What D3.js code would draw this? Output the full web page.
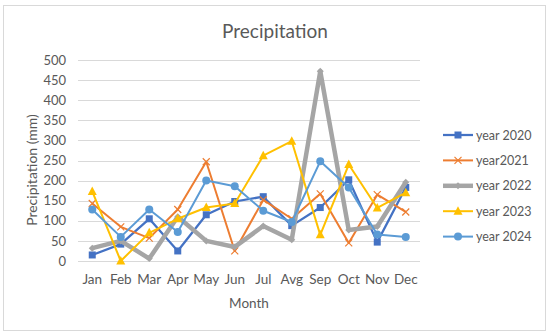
<!DOCTYPE html>
<html>
<head>
<meta charset="utf-8">
<script src="https://d3js.org/d3.v7.min.js"></script>
<style>
  body { margin: 0; background: #fff; }
  text { font-family: Lato, "Open Sans", sans-serif; fill: #595959; }
</style>
</head>
<body>
<svg id="chart"></svg>
<script>
// Chart data
const months = ['Jan', 'Feb', 'Mar', 'Apr', 'May', 'Jun', 'Jul', 'Avg', 'Sep', 'Oct', 'Nov', 'Dec'];
const yTicks = [0, 50, 100, 150, 200, 250, 300, 350, 400, 450, 500];
const seriesNames = ['year 2020', 'year2021', 'year 2022', 'year 2023', 'year 2024'];
const year2020 = [15, 42, 105, 25, 115, 148, 160, 88, 133, 202, 47, 183];
const year2021 = [143, 85, 57, 128, 247, 25, 152, 105, 167, 45, 165, 122];
const year2022 = [32, 50, 6, 110, 50, 35, 87, 53, 472, 77, 86, 196];
const year2023 = [173, 0, 70, 105, 133, 143, 262, 298, 65, 240, 132, 170];
const year2024 = [128, 60, 128, 72, 200, 186, 125, 97, 248, 183, 66, 60];

const width = 550, height = 333;
const margin = {top: 60, right: 130, bottom: 72, left: 78};

const styles = [
  {color: '#4472C4', width: 2.25, marker: 'square'},
  {color: '#ED7D31', width: 2, marker: 'x'},
  {color: '#A5A5A5', width: 4.5, marker: 'diamond'},
  {color: '#FFC000', width: 2, marker: 'triangle'},
  {color: '#5B9BD5', width: 2, marker: 'circle'}
];
const allSeries = [year2020, year2021, year2022, year2023, year2024];

const svg = d3.select('#chart')
    .attr('width', width)
    .attr('height', height);

// outer frame
svg.append('rect')
    .attr('x', 3.5).attr('y', 5.5)
    .attr('width', 542).attr('height', 325)
    .attr('fill', '#fff')
    .attr('stroke', '#d9d9d9');

const innerW = width - margin.left - margin.right;
const innerH = height - margin.top - margin.bottom;

const xScale = d3.scaleBand().domain(months).range([0, innerW]);
const yScale = d3.scaleLinear().domain([0, 500]).range([innerH, 0]);

const chart = svg.append('g')
    .attr('transform', `translate(${margin.left},${margin.top})`);

// gridlines
chart.append('g')
    .selectAll('line')
    .data(yTicks)
  .join('line')
    .attr('x1', 0).attr('x2', innerW)
    .attr('y1', d => Math.round(yScale(d)) + 0.5)
    .attr('y2', d => Math.round(yScale(d)) + 0.5)
    .attr('stroke', '#d9d9d9')
    .attr('stroke-width', 1);

// y axis labels
const yAxis = d3.axisLeft(yScale).tickValues(yTicks).tickSize(0).tickPadding(12);
chart.append('g').call(yAxis)
    .call(g => g.select('.domain').remove())
    .selectAll('text')
    .style('font-size', '13px')
    .attr('fill', '#595959');

// x axis labels
const xAxis = d3.axisBottom(xScale).tickSize(0).tickPadding(13);
chart.append('g')
    .attr('transform', `translate(0,${innerH})`)
    .call(xAxis)
    .call(g => g.select('.domain').remove())
    .selectAll('text')
    .style('font-size', '13.5px')
    .attr('fill', '#595959');

const xPos = m => xScale(m) + xScale.bandwidth() / 2;

function drawMarker(g, type, color, x, y) {
  if (type === 'square') {
    g.append('rect').attr('x', x - 3.5).attr('y', y - 3.5)
        .attr('width', 7).attr('height', 7).attr('fill', color);
  } else if (type === 'x') {
    g.append('path')
        .attr('d', `M${x - 3.5},${y - 3.5}L${x + 3.5},${y + 3.5}M${x - 3.5},${y + 3.5}L${x + 3.5},${y - 3.5}`)
        .attr('stroke', color).attr('stroke-width', 1.2);
  } else if (type === 'diamond') {
    g.append('path')
        .attr('d', `M${x},${y - 3.5}L${x + 3.5},${y}L${x},${y + 3.5}L${x - 3.5},${y}Z`)
        .attr('fill', color);
  } else if (type === 'triangle') {
    g.append('path')
        .attr('d', `M${x},${y - 5}L${x + 4.5},${y + 3.5}L${x - 4.5},${y + 3.5}Z`)
        .attr('fill', color);
  } else {
    g.append('circle').attr('cx', x).attr('cy', y).attr('r', 4).attr('fill', color);
  }
}

const line = d3.line()
    .x((d, i) => xPos(months[i]))
    .y(d => yScale(d));

allSeries.forEach((values, si) => {
  const s = styles[si];
  const g = chart.append('g');
  g.append('path')
      .datum(values)
      .attr('d', line)
      .attr('fill', 'none')
      .attr('stroke', s.color)
      .attr('stroke-width', s.width)
      .attr('stroke-linejoin', 'round');
  values.forEach((v, i) => drawMarker(g, s.marker, s.color, xPos(months[i]), yScale(v)));
});

// title
svg.append('text')
    .attr('x', 275).attr('y', 38)
    .attr('text-anchor', 'middle')
    .style('font-size', '19px')
    .text('Precipitation');

// axis titles
svg.append('text')
    .attr('x', 249).attr('y', 308)
    .attr('text-anchor', 'middle')
    .style('font-size', '13.5px')
    .text('Month');

svg.append('text')
    .attr('transform', 'translate(37,170) rotate(-90)')
    .attr('text-anchor', 'middle')
    .style('font-size', '14px')
    .text('Precipitation (mm)');

// legend
const legend = svg.append('g');
seriesNames.forEach((name, i) => {
  const s = styles[i];
  const y = 135 + i * 25.4;
  legend.append('line')
      .attr('x1', 443).attr('x2', 473)
      .attr('y1', y).attr('y2', y)
      .attr('stroke', s.color)
      .attr('stroke-width', s.width);
  drawMarker(legend, s.marker, s.color, 458, y);
  legend.append('text')
      .attr('x', 476).attr('y', y + 4.5)
      .style('font-size', '12.5px')
      .text(name);
});
</script>
</body>
</html>
